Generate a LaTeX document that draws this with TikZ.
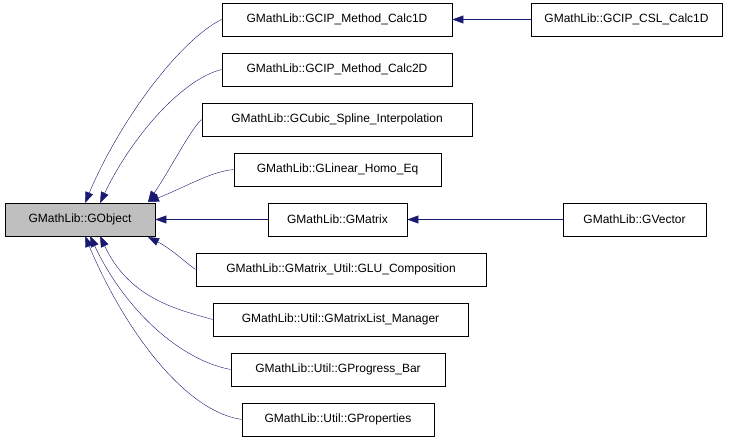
\documentclass[tikz,border=0pt]{standalone}
\usepackage{fontspec}
\setmainfont{Liberation Sans}
\usetikzlibrary{arrows.meta}
\definecolor{navy}{RGB}{25,25,112}
\begin{document}
\begin{tikzpicture}[x=1pt,y=-1pt,
  box/.style={draw,line width=0.8pt,inner sep=0pt},
  lab/.style={font=\fontsize{12}{14}\selectfont},
  inh/.style={draw=navy,{Triangle[length=11pt,width=8pt,fill=navy]}-}]
\useasboundingbox (0,0) rectangle (741,443);
\newcommand\bx[6]{\node[box,minimum width={#4-#2},minimum height={#5-#3},#6] (#1) at ({(#2+#4)/2},{(#3+#5)/2}) {};}
\bx{o}{5}{203}{155}{236}{fill={rgb,255:red,191;green,191;blue,191}}
\node[lab] at (o) {GMathLib::GObject};
\newcommand\bt[6]{\bx{#1}{#2}{#3}{#4}{#5}{}\node[lab] at (#1) {#6};}
\bt{a}{222}{3}{452}{36}{GMathLib::GCIP\_Method\_Calc1D}
\bt{a2}{531}{3}{722}{36}{GMathLib::GCIP\_CSL\_Calc1D}
\bt{b}{222}{53}{452}{86}{GMathLib::GCIP\_Method\_Calc2D}
\bt{c}{202}{103}{472}{136}{GMathLib::GCubic\_Spline\_Interpolation}
\bt{d}{234}{153}{441}{186}{GMathLib::GLinear\_Homo\_Eq}
\bt{e}{268}{203}{407}{236}{GMathLib::GMatrix}
\bt{e2}{563}{203}{706}{236}{GMathLib::GVector}
\bt{f}{196}{253}{486}{286}{GMathLib::GMatrix\_Util::GLU\_Composition}
\bt{g}{213}{303}{468}{336}{GMathLib::Util::GMatrixList\_Manager}
\bt{h}{231}{353}{445}{386}{GMathLib::Util::GProgress\_Bar}
\bt{i}{242}{403}{434}{436}{GMathLib::Util::GProperties}
\path[inh] (a.east) -- (a2.west);
\path[inh] (e.east) -- (e2.west);
\path[inh] (o.east) -- (e.west);
\path[inh] (85,203) .. controls (120,120) and (180,40) .. (a.west);
\path[inh] (100,203) .. controls (130,140) and (180,80) .. (b.west);
\path[inh] (148,202) .. controls (170,170) and (190,130) .. (c.west);
\path[inh] (148,202) .. controls (190,185) and (210,172) .. (d.west);
\path[inh] (148,237) .. controls (170,248) and (185,262) .. (f.west);
\path[inh] (100,236) .. controls (130,300) and (180,310) .. (g.west);
\path[inh] (90,236) .. controls (125,310) and (180,360) .. (h.west);
\path[inh] (85,236) .. controls (120,320) and (180,410) .. (i.west);
\end{tikzpicture}
\end{document}
